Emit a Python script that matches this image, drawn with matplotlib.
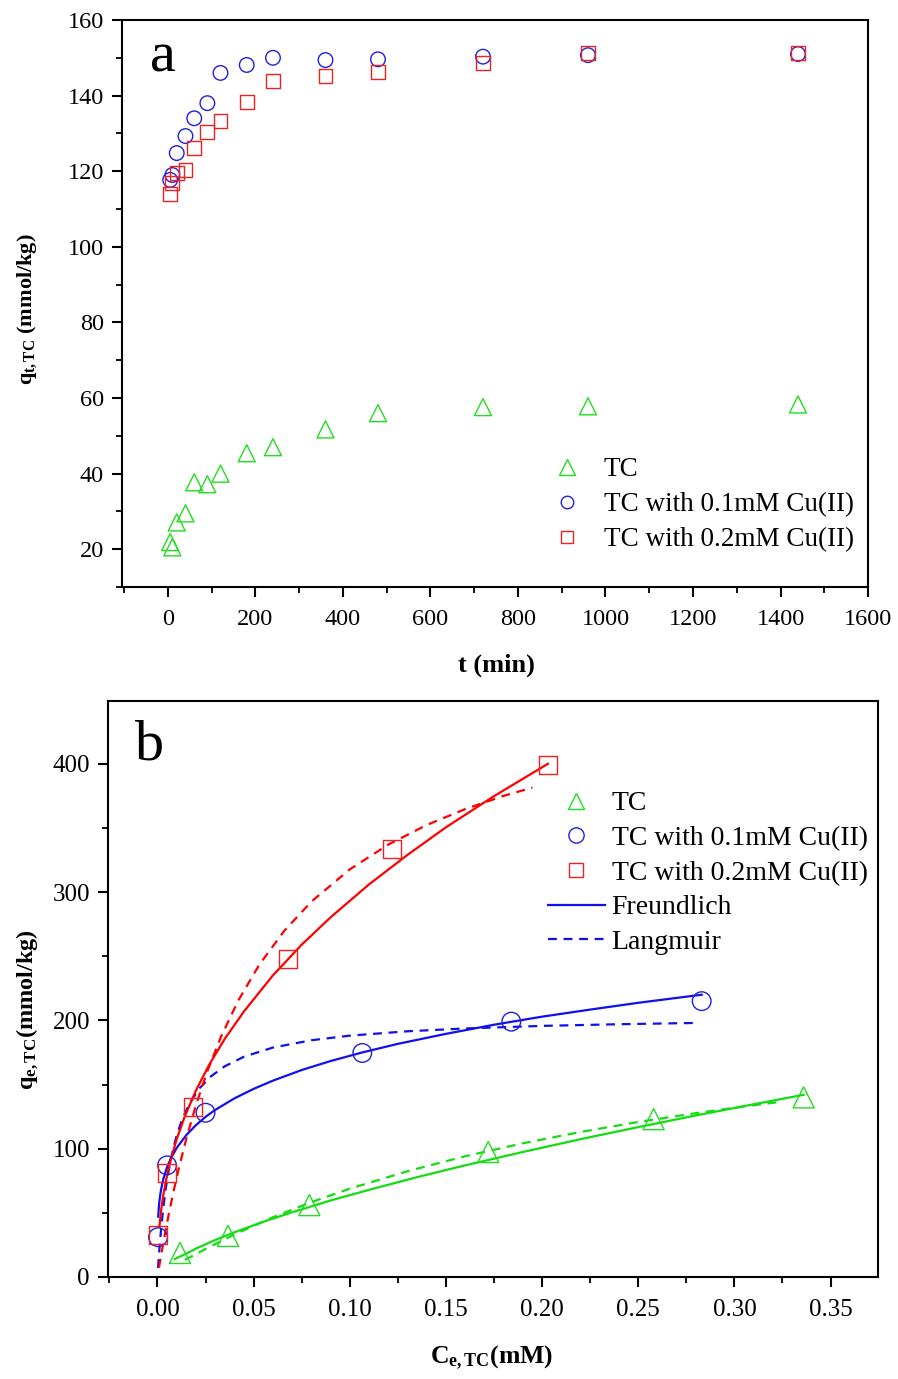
import matplotlib
matplotlib.use("Agg")
import matplotlib.pyplot as plt
from matplotlib.lines import Line2D
from matplotlib.ticker import MultipleLocator, FormatStrFormatter

plt.rcParams['font.family'] = ['Liberation Serif', 'DejaVu Serif']
plt.rcParams['mathtext.fontset'] = 'custom'
plt.rcParams['mathtext.rm'] = 'Liberation Serif'
plt.rcParams['mathtext.bf'] = 'Liberation Serif:bold'
plt.rcParams['mathtext.it'] = 'Liberation Serif:italic'

# ---------------- Panel a: kinetics ----------------
t_min = [5, 10, 20, 40, 60, 90, 120, 180, 240, 360, 480, 720, 960, 1440]
q_tc = [21.9, 20.5, 27.1, 29.5, 37.7, 37.2, 40.0, 45.4, 47.0, 51.7, 56.0, 57.6, 57.8, 58.3]
q_cu01 = [117.7, 119.0, 124.8, 129.3, 134.0, 138.0, 146.0, 148.1, 150.0, 149.4, 149.6, 150.3, 150.7, 151.0]
q_cu02 = [114.0, 116.9, 119.5, 120.3, 126.2, 130.4, 133.3, 138.3, 143.9, 145.2, 146.3, 148.7, 151.2, 151.2]

# ---------------- Panel b: isotherms ----------------
ce_tc = [0.0117, 0.0367, 0.079, 0.172, 0.258, 0.336]
qe_tc = [18.7, 32.0, 56.0, 97.4, 123.0, 140.0]
ce_cu01 = [0.0003, 0.005, 0.025, 0.1065, 0.184, 0.283]
qe_cu01 = [31.0, 87.0, 128.0, 174.6, 199.0, 215.0]
ce_cu02 = [0.0005, 0.005, 0.0185, 0.068, 0.122, 0.203]
qe_cu02 = [33.0, 81.0, 132.5, 248.0, 333.6, 399.0]

# fitted curves
fr_tc_x = [0.009, 0.015, 0.02, 0.03, 0.04, 0.055, 0.07, 0.09, 0.11, 0.135, 0.16, 0.19,
           0.22, 0.25, 0.28, 0.31, 0.336]
fr_tc_y = [14, 18.2, 22.1, 28.8, 34.8, 43, 50.4, 59.6, 67.9, 77.8, 87, 97.4,
           107.4, 116.8, 125.9, 134.6, 142]
la_tc_x = [0.0143, 0.025, 0.04, 0.06, 0.08, 0.10, 0.13, 0.16, 0.19, 0.22, 0.25, 0.28, 0.305, 0.325]
la_tc_y = [13.3, 21.8, 33.1, 46.5, 58.3, 68.8, 82.4, 94.1, 104.2, 113, 120.8, 127.7, 132.9, 136.7]

fr_cu01_x = [0.0004, 0.0007, 0.001, 0.0015, 0.002, 0.003, 0.004, 0.005, 0.007, 0.01, 0.015,
             0.02, 0.025, 0.03, 0.04, 0.05, 0.06, 0.075, 0.09, 0.1065, 0.125, 0.15, 0.175,
             0.20, 0.225, 0.25, 0.283]
fr_cu01_y = [47, 54, 58.7, 64.5, 69, 76, 81, 85.5, 92.5, 100.6, 110.6,
             118.3, 124.8, 130.2, 139.2, 146.6, 153, 161.3, 168.3, 175, 181.7, 189.5, 196.6,
             202.9, 208.4, 213.7, 220]
la_cu01_x = [0.0003, 0.0006, 0.001, 0.0015, 0.002, 0.003, 0.004, 0.005, 0.007, 0.01, 0.013,
             0.017, 0.022, 0.028, 0.035, 0.045, 0.06, 0.08, 0.10, 0.13, 0.16, 0.20, 0.24, 0.28]
la_cu01_y = [7, 13.5, 21.5, 30.7, 39, 53.3, 65.4, 75.7, 92.3, 110.4, 123.5,
             136.1, 147.3, 156.6, 164.2, 171.7, 178.8, 184.5, 188.1, 191.5, 193.7, 195.7, 197, 198]

fr_cu02_x = [0.001, 0.002, 0.003, 0.005, 0.007, 0.01, 0.014, 0.02, 0.027, 0.035, 0.045,
             0.06, 0.075, 0.09, 0.11, 0.13, 0.15, 0.175, 0.203]
fr_cu02_y = [39.2, 53, 63.5, 79.3, 91.9, 107.4, 124.3, 145.3, 165.7, 185.6, 207,
             235, 259, 280.3, 306, 329, 350.5, 374.8, 400]
la_cu02_x = [0.0008, 0.002, 0.004, 0.006, 0.008, 0.011, 0.015, 0.02, 0.026, 0.033, 0.042,
             0.053, 0.066, 0.08, 0.10, 0.12, 0.14, 0.16, 0.18, 0.195]
la_cu02_y = [7.3, 17.8, 34.4, 49.8, 64.2, 84, 107.8, 133.8, 160.6, 187.1, 215.4,
             243.5, 269.9, 292.5, 317.7, 337, 352.3, 364.7, 375, 381.5]

labels = ['TC', 'TC with 0.1mM Cu(II)', 'TC with 0.2mM Cu(II)']
GREEN = '#22dd22'
BLUE = '#2020dd'
RED = '#ee2020'
LGREEN = '#11dd11'
LBLUE = '#1010ee'
LRED = '#ff0000'

DASH = (0, (4, 3))

fig = plt.figure(figsize=(8.98, 13.79), dpi=100)


def style_axes(ax, tfs):
    for s in ax.spines.values():
        s.set_linewidth(1.5)
    ax.tick_params(which='major', direction='out', length=7, width=1.5, labelsize=tfs)
    ax.tick_params(which='minor', direction='out', length=4.5, width=1.3)
    ax.tick_params(top=False, right=False, which='both')


# ---- panel a
ax1 = fig.add_axes([0.1359, 0.5743, 0.8307, 0.4112])
style_axes(ax1, 17.5)
ax1.tick_params(axis='x', which='major', pad=9)
ax1.tick_params(axis='y', which='major', pad=6)
ax1.scatter(t_min, q_tc, marker='^', s=150, facecolors='none', edgecolors=GREEN, linewidths=1.0, zorder=3)
ax1.scatter(t_min, q_cu01, marker='o', s=110, facecolors='none', edgecolors=BLUE, linewidths=1.0, zorder=3)
ax1.scatter(t_min, q_cu02, marker='s', s=100, facecolors='none', edgecolors=RED, linewidths=1.0, zorder=4)
ax1.set_xlim(-105, 1600)
ax1.set_ylim(10, 160)
ax1.xaxis.set_major_locator(MultipleLocator(200))
ax1.xaxis.set_minor_locator(MultipleLocator(100))
ax1.yaxis.set_major_locator(MultipleLocator(20))
ax1.yaxis.set_minor_locator(MultipleLocator(10))
fig.text(150 / 898, 1 - 58 / 1379, 'a', fontsize=42, va='center', ha='left')
h1 = [Line2D([], [], ls='none', marker='^', ms=11, mfc='none', mec=GREEN, mew=1.0),
      Line2D([], [], ls='none', marker='o', ms=9, mfc='none', mec=BLUE, mew=1.0),
      Line2D([], [], ls='none', marker='s', ms=9, mfc='none', mec=RED, mew=1.0)]
fig.legend(h1, labels, loc='upper left', bbox_to_anchor=(0.607, 1 - 457 / 1379), frameon=False,
           fontsize=19.5, handlelength=1.6, handletextpad=0.56, labelspacing=0.37,
           borderpad=0, borderaxespad=0)

fig.text(496 / 898, 1 - 665 / 1379, 't (min)', fontsize=19, fontweight='bold', ha='center', va='center')
fig.text(27 / 898, 1 - 309 / 1379, r'$\mathbf{q_{t,TC}}$ (mmol/kg)', fontsize=16, fontweight='bold',
         rotation=90, ha='center', va='center')

# ---- panel b
ax2 = fig.add_axes([0.1203, 0.0740, 0.8575, 0.4177])
style_axes(ax2, 18)
ax2.tick_params(axis='x', which='major', pad=9)
ax2.tick_params(axis='y', which='major', pad=6)
ax2.plot(fr_tc_x, fr_tc_y, color=LGREEN, lw=1.6, zorder=2)
ax2.plot(la_tc_x, la_tc_y, color=LGREEN, lw=1.6, ls=DASH, zorder=2)
ax2.plot(fr_cu01_x, fr_cu01_y, color=LBLUE, lw=1.6, zorder=2)
ax2.plot(la_cu01_x, la_cu01_y, color=LBLUE, lw=1.6, ls=DASH, zorder=2)
ax2.plot(fr_cu02_x, fr_cu02_y, color=LRED, lw=1.6, zorder=2)
ax2.plot(la_cu02_x, la_cu02_y, color=LRED, lw=1.6, ls=DASH, zorder=2)
ax2.scatter(ce_tc, qe_tc, marker='^', s=230, facecolors='none', edgecolors=GREEN, linewidths=1.0, zorder=3)
ax2.scatter(ce_cu01, qe_cu01, marker='o', s=180, facecolors='none', edgecolors=BLUE, linewidths=1.0, zorder=3)
ax2.scatter(ce_cu02, qe_cu02, marker='s', s=165, facecolors='none', edgecolors=RED, linewidths=1.0, zorder=4)
ax2.set_xlim(-0.0257, 0.3747)
ax2.set_ylim(0, 449)
ax2.xaxis.set_major_locator(MultipleLocator(0.05))
ax2.xaxis.set_minor_locator(MultipleLocator(0.025))
ax2.yaxis.set_major_locator(MultipleLocator(100))
ax2.yaxis.set_minor_locator(MultipleLocator(50))
ax2.xaxis.set_major_formatter(FormatStrFormatter('%.2f'))
fig.text(135 / 898, 1 - 745 / 1379, 'b', fontsize=42, va='center', ha='left')
h2 = [Line2D([], [], ls='none', marker='^', ms=12, mfc='none', mec=GREEN, mew=1.0),
      Line2D([], [], ls='none', marker='o', ms=11, mfc='none', mec=BLUE, mew=1.0),
      Line2D([], [], ls='none', marker='s', ms=10, mfc='none', mec=RED, mew=1.0),
      Line2D([], [], color=LBLUE, lw=1.6),
      Line2D([], [], color=LBLUE, lw=1.6, ls=DASH)]
fig.legend(h2, labels + ['Freundlich', 'Langmuir'], loc='upper left', bbox_to_anchor=(0.610, 1 - 791 / 1379),
           frameon=False, fontsize=20, handlelength=2.05, handletextpad=0.25, labelspacing=0.33,
           borderpad=0, borderaxespad=0)

fig.text(492 / 898, 1 - 1358 / 1379, r'$\mathbf{C_{e,TC}}$(mM)', fontsize=18.5, fontweight='bold',
         ha='center', va='center')
fig.text(27 / 898, 1 - 1010 / 1379, r'$\mathbf{q_{e,TC}}$(mmol/kg)', fontsize=17.5, fontweight='bold',
         rotation=90, ha='center', va='center')

fig.savefig('out.png', dpi=100)
